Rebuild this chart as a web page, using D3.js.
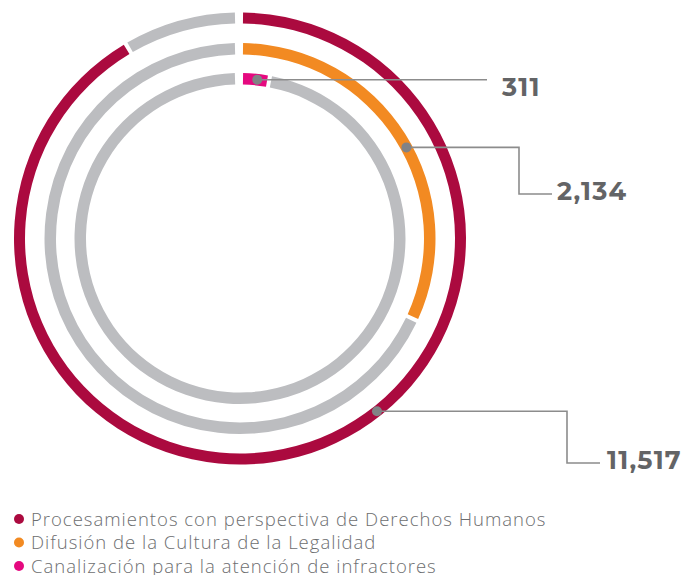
<!DOCTYPE html>
<html>
<head>
<meta charset="utf-8">
<script src="https://cdn.jsdelivr.net/npm/d3@7/dist/d3.min.js"></script>
<style>
  html, body { margin: 0; padding: 0; background: #ffffff; }
  svg { display: block; }
</style>
</head>
<body>
<svg id="chart" width="684" height="575"></svg>
<script>
// Program categories, outer ring first
const categories = [
  "Procesamientos con perspectiva de Derechos Humanos",
  "Difusión de la Cultura de la Legalidad",
  "Canalización para la atención de infractores"
];
// Number of actions per category
const values = [11517, 2134, 311];
// Full-circle reference for each ring
const ringMax = [12600, 6720, 11517];
const valueLabels = ["11,517", "2,134", "311"];
const colors = ["#ab0a3f", "#f28a22", "#e5097f"];
const trackColor = "#bcbdc0";

const svg = d3.select("#chart");
const cx = 240, cy = 238.5;

// Ring geometry (outer to inner)
const rings = [
  { inner: 215, outer: 226 },
  { inner: 184, outer: 195.5 },
  { inner: 154, outer: 165.5 }
];
// Where the leader dot sits along each ring (degrees clockwise from top)
const anchorDeg = [141.6, 61.3, 6.2];
// Leader paths: elbow x, label row y, end x, label x
const leaders = [
  { elbowX: 567, rowY: 463, endX: 600, textX: 607, baseY: 469 },
  { elbowX: 519, rowY: 194, endX: 552, textX: 557, baseY: 200 },
  { elbowX: null, rowY: null, endX: 487, textX: 502, baseY: 96 }
];

const g = svg.append("g").attr("transform", `translate(${cx},${cy})`);
const TAU = 2 * Math.PI;

values.forEach((v, i) => {
  const r = rings[i];
  const angle = d3.scaleLinear().domain([0, ringMax[i]]).range([0, TAU]);
  const mid = (r.inner + r.outer) / 2;
  const padStart = 3 / mid;
  const padTrackEnd = 5 / mid;
  const padGap = 4 / mid;
  const end = angle(v);
  const arc = d3.arc().innerRadius(r.inner).outerRadius(r.outer);

  // grey remainder of the ring
  g.append("path")
    .attr("d", arc({ startAngle: end + padGap, endAngle: TAU - padTrackEnd }))
    .attr("fill", trackColor);
  // coloured value arc
  g.append("path")
    .attr("d", arc({ startAngle: padStart, endAngle: end }))
    .attr("fill", colors[i]);
});

// Leader lines, dots and value labels
values.forEach((v, i) => {
  const r = rings[i];
  const mid = (r.inner + r.outer) / 2;
  const a = anchorDeg[i] * Math.PI / 180;
  const px = cx + mid * Math.sin(a);
  const py = cy - mid * Math.cos(a);
  const L = leaders[i];
  let pts;
  if (L.elbowX === null) {
    pts = [[px, py], [L.endX, py]];
  } else {
    pts = [[px, py], [L.elbowX, py], [L.elbowX, L.rowY], [L.endX, L.rowY]];
  }
  svg.append("path")
    .attr("d", d3.line()(pts))
    .attr("fill", "none")
    .attr("stroke", "#8c8c8c")
    .attr("stroke-width", 1.6);
  svg.append("circle")
    .attr("cx", px).attr("cy", py).attr("r", 5)
    .attr("fill", "#818285");
  svg.append("text")
    .attr("x", L.textX).attr("y", L.baseY)
    .attr("font-family", "Montserrat, 'Open Sans', Lato, sans-serif")
    .attr("font-weight", 700)
    .attr("font-size", 25.5)
    .attr("letter-spacing", 1.2)
    .attr("fill", "#636466")
    .text(valueLabels[i]);
});

// Legend
const legend = svg.append("g");
categories.forEach((c, i) => {
  const y = 519 + i * 23.5;
  legend.append("circle")
    .attr("cx", 19).attr("cy", y).attr("r", 5)
    .attr("fill", colors[i]);
  legend.append("text")
    .attr("x", 31).attr("y", y + 6.5)
    .attr("font-family", "'Open Sans', Lato, sans-serif")
    .attr("font-weight", 300)
    .attr("font-size", 18.5)
    .attr("letter-spacing", 1.0)
    .attr("fill", "#6d6e70")
    .text(c);
});
</script>
</body>
</html>
